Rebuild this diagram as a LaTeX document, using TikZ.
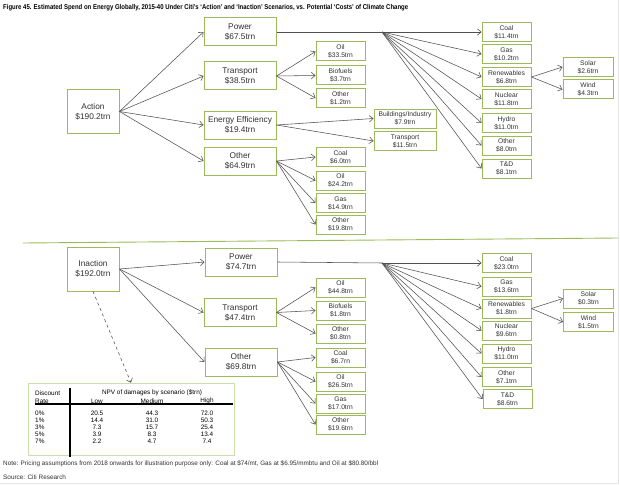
\documentclass[tikz,border=0pt]{standalone}
\usepackage{fontspec, graphicx}
\setmainfont{Liberation Sans}
\usetikzlibrary{arrows.meta}
\definecolor{boxgreen}{HTML}{9BBB59}
\definecolor{arrgray}{HTML}{505050}
\definecolor{txtgray}{HTML}{303030}
\tikzset{>={Straight Barb[length=3.8pt,width=6.5pt]},
  bigbox/.style={draw=boxgreen, line width=1pt, minimum width=72pt, minimum height=28pt,
    inner sep=0pt, align=center, text=txtgray, font=\fontsize{8.3}{10}\selectfont},
  smallbox/.style={draw=boxgreen, line width=1pt, minimum width=49pt, minimum height=19pt,
    inner sep=0pt, align=center, text=txtgray, font=\fontsize{6.7}{8}\selectfont},
  arr/.style={->, draw=arrgray, line width=0.55pt},
  cell/.style={inner sep=0pt, text=black, font=\fontsize{6.4}{7}\selectfont}}

\begin{document}
\begin{tikzpicture}[x=1pt, y=-1pt]
    \useasboundingbox (0,0) rectangle (620,484);
    \node[anchor=west, inner sep=0pt] (ttl) at (3,8) {\resizebox{405pt}{\height}{\fontsize{7}{8}\selectfont\bfseries
      Figure 45. Estimated Spend on Energy Globally, 2015-40 Under Citi’s ‘Action’ and ‘Inaction’ Scenarios, vs. Potential ‘Costs’ of Climate Change}};
    % Action
    \node[bigbox, minimum width=52pt, minimum height=43pt] (act) at (93,111.5) {Action\\\$190.2trn};
    \node[bigbox] (pwrA) at (240,32) {Power\\\$67.5trn};
    \node[bigbox] (trA) at (240,76) {Transport\\\$38.5trn};
    \node[bigbox] (eeA) at (240,125) {Energy Efficiency\\\$19.4trn};
    \node[bigbox] (othA) at (240,161) {Other\\\$64.9trn};
    \node[smallbox] (trA1) at (340.5,51.5) {Oil\\\$33.5trn};
    \node[smallbox] (trA2) at (340.5,75.5) {Biofuels\\\$3.7trn};
    \node[smallbox] (trA3) at (340.5,98) {Other\\\$1.2trn};
    \node[smallbox, minimum width=62pt] (eeA1) at (405,118.5) {Buildings/Industry\\\$7.9trn};
    \node[smallbox, minimum width=62pt] (eeA2) at (405,141) {Transport\\\$11.5trn};
    \node[smallbox] (othA1) at (340.5,157) {Coal\\\$6.0trn};
    \node[smallbox] (othA2) at (340.5,180.5) {Oil\\\$24.2trn};
    \node[smallbox] (othA3) at (340.5,203) {Gas\\\$14.9trn};
    \node[smallbox] (othA4) at (340.5,224.5) {Other\\\$19.8trn};
    \node[smallbox] (pwrA1) at (506.5,32) {Coal\\\$11.4trn};
    \node[smallbox] (pwrA2) at (506.5,54) {Gas\\\$10.2trn};
    \node[smallbox] (pwrA3) at (506.5,77) {Renewables\\\$6.8trn};
    \node[smallbox] (pwrA4) at (506.5,99) {Nuclear\\\$11.8trn};
    \node[smallbox] (pwrA5) at (506.5,123) {Hydro\\\$11.0trn};
    \node[smallbox] (pwrA6) at (506.5,145.5) {Other\\\$8.0trn};
    \node[smallbox] (pwrA7) at (506.5,168.5) {T\&D\\\$8.1trn};
    \node[smallbox, minimum width=50pt] (rnA1) at (588,67) {Solar\\\$2.6trn};
    \node[smallbox, minimum width=50pt] (rnA2) at (588,89.5) {Wind\\\$4.3trn};
    \coordinate (brA) at (382,32);
    \foreach \c in {pwrA,trA,eeA,othA} \draw[arr] (act.east) -- (\c.west);
    \draw[arrgray, line width=0.55pt] (pwrA.east) -- (brA);
    \foreach \i in {1,...,7} \draw[arr] (brA) -- (pwrA\i.west);
    \foreach \i in {1,2,3} \draw[arr] (trA.east) -- (trA\i.west);
    \foreach \i in {1,2} \draw[arr] (eeA.east) -- (eeA\i.west);
    \foreach \i in {1,...,4} \draw[arr] (othA.east) -- (othA\i.west);
    \foreach \i in {1,2} \draw[arr] (pwrA3.east) -- (rnA\i.west);
    \draw[boxgreen, line width=0.9pt] (23,243) -- (618,238);
    % Inaction
    \node[bigbox, minimum width=52pt, minimum height=44pt] (inact) at (93,269) {Inaction\\\$192.0trn};
    \node[bigbox] (pwrB) at (241,262) {Power\\\$74.7trn};
    \node[bigbox] (trB) at (240,312.5) {Transport\\\$47.4trn};
    \node[bigbox] (othB) at (241,362) {Other\\\$69.8trn};
    \node[smallbox] (trB1) at (340.5,287.5) {Oil\\\$44.8trn};
    \node[smallbox] (trB2) at (340.5,310.5) {Biofuels\\\$1.8trn};
    \node[smallbox] (trB3) at (340.5,333.5) {Other\\\$0.8trn};
    \node[smallbox] (othB1) at (340.5,357.5) {Coal\\\$6.7rn};
    \node[smallbox] (othB2) at (340.5,381.5) {Oil\\\$26.5trn};
    \node[smallbox] (othB3) at (340.5,403.5) {Gas\\\$17.0trn};
    \node[smallbox] (othB4) at (340.5,424.5) {Other\\\$19.6trn};
    \node[smallbox] (pwrB1) at (506.5,263) {Coal\\\$23.0trn};
    \node[smallbox] (pwrB2) at (506.5,286.5) {Gas\\\$13.6trn};
    \node[smallbox] (pwrB3) at (506.5,308.5) {Renewables\\\$1.8trn};
    \node[smallbox] (pwrB4) at (506.5,330.5) {Nuclear\\\$9.6trn};
    \node[smallbox] (pwrB5) at (506.5,353.5) {Hydro\\\$11.0trn};
    \node[smallbox] (pwrB6) at (506.5,377) {Other\\\$7.1trn};
    \node[smallbox] (pwrB7) at (507.5,399) {T\&D\\\$8.6trn};
    \node[smallbox, minimum width=50pt] (rnB1) at (588.5,298.5) {Solar\\\$0.3trn};
    \node[smallbox, minimum width=50pt] (rnB2) at (588.5,322) {Wind\\\$1.5trn};
    \coordinate (brB) at (382,263);
    \foreach \c in {pwrB,trB,othB} \draw[arr] (inact.east) -- (\c.west);
    \draw[arrgray, line width=0.55pt] (pwrB.east) -- (brB);
    \foreach \i in {1,...,7} \draw[arr] (brB) -- (pwrB\i.west);
    \foreach \i in {1,2,3} \draw[arr] (trB.east) -- (trB\i.west);
    \foreach \i in {1,...,4} \draw[arr] (othB.east) -- (othB\i.west);
    \foreach \i in {1,2} \draw[arr] (pwrB3.east) -- (rnB\i.west);
    % damages table
    \node[draw=boxgreen!50, line width=0.6pt, minimum width=206pt, minimum height=72pt, inner sep=0pt] (tbl) at (131,419) {};
    \draw[arr, dashed] (inact.south) -- (tbl.north);
    \draw[line width=1.2pt] (70,388) -- (70,457);
    \draw[line width=1.2pt] (35,404) -- (233,404);
    \node[cell, anchor=west] (dsc) at (35,393) {Discount};
    \node[cell, anchor=west] (rte) at (35,401.5) {Rate};
    \node[cell] (npv) at (152,393) {NPV of damages by scenario (\$trn)};
    \node[cell] (low) at (97,401) {Low};
    \node[cell] (med) at (152,401) {Medium};
    \node[cell] (hgh) at (207,401) {High};
    \foreach \r/\lo/\me/\hi [count=\i] in {0\%/20.5/44.3/72.0, 1\%/14.4/31.0/50.3, 3\%/7.3/15.7/25.4, 5\%/3.9/8.3/13.4, 7\%/2.2/4.7/7.4} {
      \node[cell, anchor=west] at (35,{406+7*\i}) {\r};
      \node[cell] at (97,{406+7*\i}) {\lo};
      \node[cell] at (152,{406+7*\i}) {\me};
      \node[cell] at (207,{406+7*\i}) {\hi};
    }
    \node[anchor=west, inner sep=0pt, text=txtgray] (note) at (3,464) {\resizebox{375pt}{\height}{\fontsize{6.4}{7}\selectfont
      Note: Pricing assumptions from 2018 onwards for illustration purpose only: Coal at \$74/mt, Gas at \$6.95/mmbtu and Oil at \$80.80/bbl}};
    \node[anchor=west, inner sep=0pt, text=txtgray, font=\fontsize{6.4}{7}\selectfont] (src) at (3,477) {Source: Citi Research};
    \draw[black!10, line width=0.8pt] (618.5,0) -- (618.5,483) -- (0,483);
\end{tikzpicture}
\end{document}
